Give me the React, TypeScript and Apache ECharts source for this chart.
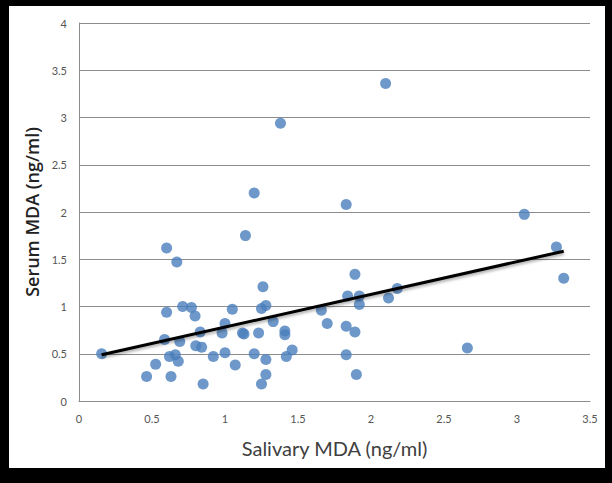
import React, { useEffect, useRef } from "react";
import * as echarts from "echarts";

const salivaryMDA = [
  0.155, 0.463, 0.525, 0.6, 0.6, 0.586, 0.62, 0.63, 0.66, 0.67, 0.68, 0.69, 0.71, 0.77, 0.795, 0.8,
  0.83, 0.84, 0.85, 0.92, 0.98, 1.0, 1.0, 1.05, 1.07, 1.12, 1.13, 1.14, 1.2, 1.2, 1.23, 1.26, 1.25,
  1.28, 1.25, 1.28, 1.28, 1.33, 1.38, 1.41, 1.41, 1.42, 1.46, 1.66, 1.7, 1.83, 1.83, 1.83, 1.84,
  1.89, 1.89, 1.9, 1.92, 1.92, 2.1, 2.12, 2.18, 2.66, 3.05, 3.27, 3.32,
];
const serumMDA = [
  0.5, 0.26, 0.39, 1.62, 0.94, 0.65, 0.47, 0.26, 0.49, 1.47, 0.42, 0.63, 1.0, 0.99, 0.9, 0.585,
  0.73, 0.57, 0.18, 0.47, 0.72, 0.82, 0.51, 0.97, 0.38, 0.72, 0.71, 1.75, 2.2, 0.5, 0.72, 1.21, 0.98,
  1.01, 0.18, 0.28, 0.44, 0.84, 2.94, 0.74, 0.7, 0.47, 0.54, 0.96, 0.82, 0.49, 0.79, 2.08, 1.11,
  1.34, 0.73, 0.28, 1.11, 1.02, 3.36, 1.09, 1.19, 0.56, 1.975, 1.63, 1.3,
];
const trendX = [0.155, 3.32];
const trendY = [0.49, 1.585];
const xTicks = [0, 0.5, 1, 1.5, 2, 2.5, 3, 3.5];
const yTicks = [0, 0.5, 1, 1.5, 2, 2.5, 3, 3.5, 4];

export default function App() {
  const ref = useRef<HTMLDivElement>(null);
  useEffect(() => {
    if (!ref.current) return;
    const chart = echarts.init(ref.current, undefined, { renderer: "svg" });
    const font = "Lato, 'Open Sans', sans-serif";
    chart.setOption({
      animation: false,
      backgroundColor: "transparent",
      grid: { left: 70, right: 15, top: 17, bottom: 67 },
      xAxis: {
        type: "value",
        min: xTicks[0],
        max: xTicks[xTicks.length - 1],
        interval: 0.5,
        name: "Salivary MDA (ng/ml)",
        nameLocation: "middle",
        nameGap: 37,
        nameTextStyle: { fontFamily: font, fontSize: 20, color: "#404040" },
        axisLine: { show: true, lineStyle: { color: "#8c8c8c", width: 1 } },
        axisTick: { show: false },
        axisLabel: { fontFamily: font, fontSize: 11, color: "#555", margin: 12 },
        splitLine: { show: false },
      },
      yAxis: {
        type: "value",
        min: yTicks[0],
        max: yTicks[yTicks.length - 1],
        interval: 0.5,
        name: "Serum MDA (ng/ml)",
        nameLocation: "middle",
        nameGap: 37,
        nameTextStyle: { fontFamily: "'Open Sans', sans-serif", fontSize: 18, color: "#222", fontWeight: 600 },
        axisLine: { show: true, lineStyle: { color: "#8c8c8c", width: 1 } },
        axisTick: { show: false },
        axisLabel: { fontFamily: font, fontSize: 11, color: "#555", margin: 12 },
        splitLine: { show: true, lineStyle: { color: "#8c8c8c", width: 1 } },
      },
      series: [
        {
          type: "scatter",
          data: salivaryMDA.map((x, i) => [x, serumMDA[i]]),
          symbol: "circle",
          symbolSize: 11,
          itemStyle: { color: "#4a7ebb" },
          z: 2,
        },
        {
          type: "line",
          data: trendX.map((x, i) => [x, trendY[i]]),
          symbol: "none",
          lineStyle: { color: "#000", width: 3, shadowColor: "rgba(0,0,0,0.35)", shadowBlur: 3, shadowOffsetY: 2 },
          z: 3,
        },
      ],
    });
    return () => chart.dispose();
  }, []);
  return (
    <div style={{ position: "fixed", left: 0, top: 0, width: 612, height: 483, background: "#000" }}>
      <div style={{ position: "absolute", left: 9, top: 6, width: 596, height: 462, background: "#fff" }}>
        <div ref={ref} style={{ width: 596, height: 462 }} />
      </div>
    </div>
  );
}
